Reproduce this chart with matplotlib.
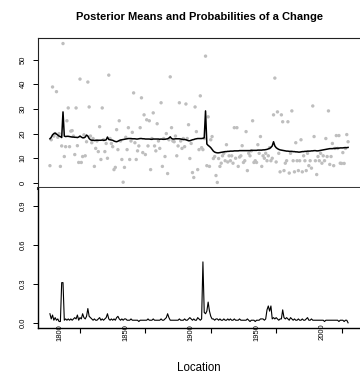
import numpy as np
import matplotlib
matplotlib.use("Agg")
import matplotlib.pyplot as plt

plt.rcParams['font.family'] = ['Liberation Sans', 'DejaVu Sans']

first_year = 1792
observed = [
    7, 17.5, 38.9, 19, 20, 37, 18.5, 20, 6.7, 15,            # 1792-1801
    56.5, 10.7, 14.7, 25.2, 30.4, 14.7, 21, 21.2, 19, 11.5,  # 1802-1811
    30.4, 15.1, 8.3, 42.1, 8.3, 10.7, 19.5, 11, 16.7, 40.9,  # 1812-1821
    30.8, 19, 16.3, 18, 6.7, 14, 17, 12.7, 22.8, 9.5,        # 1822-1831
    30.4, 17.5, 12.7, 16, 10, 43.7, 18, 16, 14.7, 5.4,       # 1832-1841
    6.3, 21.6, 13.5, 25.2, 17, 9.5, 0.3, 6.3, 18.5, 13.5,    # 1842-1851
    22.4, 9.5, 17, 20.5, 36.5, 16.3, 9.5, 13, 15, 22.4,      # 1852-1861
    34.5, 12.3, 27.6, 11.5, 25.6, 15, 25.2, 5.4, 18, 28.4,   # 1862-1871
    15, 13, 24, 17, 14, 32.5, 6.7, 18, 10.7, 20,             # 1872-1881
    3.8, 17.5, 43, 22.4, 17, 16.7, 19, 11, 15, 32.5,         # 1882-1891
    17, 14, 18, 14.7, 32, 18, 23.6, 9.9, 16, 4.2,            # 1892-1901
    2.2, 30.8, 20.8, 5.4, 13.5, 35.3, 14.3, 13.5, 18, 51.4,  # 1902-1911
    7, 26.8, 6.7, 17.5, 18.8, 9.9, 10.7, 3, 0.2, 9.9,        # 1912-1921
    6.7, 8, 11, 12, 9, 15.5, 8.5, 11, 9, 11,                 # 1922-1931
    8, 22.4, 10, 22.4, 6.7, 10.5, 11, 15.1, 8.3, 9,          # 1932-1941
    20.8, 5, 12, 11, 13, 25.2, 8.3, 9, 8.3, 15.5,            # 1942-1951
    12, 18.8, 6.7, 11, 10, 12, 9, 11, 14.3, 9,               # 1952-1961
    10, 27.6, 42.5, 8.5, 28.8, 12, 4.5, 27.6, 24.8, 5,       # 1962-1971
    8, 9, 24.8, 4, 12, 29.2, 9, 4.5, 16.3, 9,                # 1972-1981
    5, 9, 17.5, 4.5, 11, 9, 5, 12, 7, 9,                     # 1982-1991
    6, 31.2, 18.8, 9, 3.4, 10.7, 9, 12, 8, 11,               # 1992-2001
    9, 18, 10.7, 29.2, 7.5, 10.7, 16, 7, 14, 19.2,           # 2002-2011
    14, 19.2, 8, 7.9, 12.3, 7.9, 14, 19.6, 16.7,             # 2012-2020
]
posterior_mean = [
    17.9, 18.5, 19.5, 20.0, 20.2, 19.8, 19.4, 19.0, 18.8, 18.4,  # 1792
    28.8, 19.0, 18.8, 18.9, 18.9, 18.8, 18.7, 18.6, 18.6, 18.5,  # 1802
    18.5, 18.4, 18.6, 19.0, 18.6, 18.3, 18.3, 18.6, 19.4, 19.0,  # 1812
    18.0, 17.5, 17.3, 17.3, 17.2, 17.3, 17.3, 17.3, 17.3, 17.3,  # 1822
    17.4, 17.3, 17.3, 17.5, 18.6, 17.6, 17.5, 17.4, 17.3, 17.0,  # 1832
    16.8, 16.7, 16.9, 17.2, 17.4, 17.5, 17.6, 17.7, 17.8, 17.9,  # 1842
    18.0, 18.0, 18.0, 17.9, 17.9, 17.9, 17.8, 17.8, 17.9, 18.0,  # 1852
    18.0, 17.9, 17.9, 17.8, 17.8, 17.8, 17.8, 17.7, 17.7, 17.8,  # 1862
    17.8, 17.8, 17.8, 17.8, 17.7, 17.8, 17.7, 17.7, 17.7, 17.8,  # 1872
    17.9, 18.2, 18.7, 18.0, 17.8, 17.8, 17.9, 17.9, 17.9, 17.9,  # 1882
    17.8, 17.7, 17.6, 17.6, 17.5, 17.3, 17.1, 17.1, 17.3, 17.5,  # 1892
    17.6, 17.8, 17.9, 18.0, 18.0, 18.0, 18.0, 18.1, 18.3, 29.2,  # 1902
    15.8, 15.2, 14.8, 14.3, 13.6, 12.9, 12.5, 12.3, 12.2, 12.2,  # 1912
    12.3, 12.4, 12.5, 12.6, 12.7, 12.7, 12.8, 12.8, 12.9, 12.9,  # 1922
    12.9, 13.0, 13.0, 13.0, 13.0, 13.1, 13.1, 13.1, 13.1, 13.1,  # 1932
    13.1, 13.1, 13.1, 13.1, 13.2, 13.2, 13.2, 13.2, 13.2, 13.3,  # 1942
    13.3, 13.3, 13.3, 13.4, 13.4, 13.5, 13.6, 13.8, 14.0, 14.4,  # 1952
    15.0, 16.7, 15.0, 14.3, 13.9, 13.6, 13.4, 13.3, 13.2, 13.1,  # 1962
    13.0, 12.9, 12.9, 12.8, 12.8, 12.8, 12.7, 12.7, 12.6, 12.6,  # 1972
    12.5, 12.5, 12.6, 12.7, 12.7, 12.8, 12.8, 12.9, 12.9, 12.9,  # 1982
    13.0, 13.0, 13.1, 13.1, 13.0, 13.0, 13.1, 13.2, 13.3, 13.4,  # 1992
    13.5, 13.6, 13.7, 13.8, 13.9, 13.9, 13.9, 14.0, 14.0, 14.1,  # 2002
    14.1, 14.1, 14.2, 14.2, 14.2, 14.3, 14.3, 14.3, 14.4,        # 2012
]
posterior_prob = [
    0.07, 0.03, 0.06, 0.02, 0.04, 0.02, 0.03, 0.01, 0.01, 0.31,  # 1792
    0.31, 0.02, 0.03, 0.02, 0.03, 0.02, 0.03, 0.02, 0.03, 0.04,  # 1802
    0.03, 0.06, 0.02, 0.04, 0.03, 0.07, 0.04, 0.03, 0.05, 0.11,  # 1812
    0.05, 0.04, 0.03, 0.02, 0.03, 0.02, 0.02, 0.03, 0.04, 0.02,  # 1822
    0.03, 0.02, 0.03, 0.04, 0.07, 0.03, 0.02, 0.03, 0.02, 0.03,  # 1832
    0.02, 0.04, 0.05, 0.03, 0.02, 0.03, 0.02, 0.03, 0.03, 0.02,  # 1842
    0.02, 0.02, 0.03, 0.02, 0.02, 0.02, 0.02, 0.02, 0.01, 0.02,  # 1852
    0.02, 0.02, 0.02, 0.02, 0.02, 0.03, 0.02, 0.02, 0.02, 0.03,  # 1862
    0.02, 0.02, 0.02, 0.02, 0.02, 0.03, 0.02, 0.02, 0.03, 0.04,  # 1872
    0.07, 0.04, 0.02, 0.02, 0.02, 0.02, 0.02, 0.02, 0.02, 0.03,  # 1882
    0.02, 0.02, 0.02, 0.03, 0.02, 0.02, 0.03, 0.04, 0.03, 0.02,  # 1892
    0.03, 0.02, 0.02, 0.04, 0.03, 0.02, 0.03, 0.47, 0.08, 0.07,  # 1902
    0.09, 0.16, 0.09, 0.05, 0.03, 0.03, 0.02, 0.03, 0.03, 0.02,  # 1912
    0.03, 0.02, 0.02, 0.03, 0.02, 0.02, 0.03, 0.02, 0.03, 0.02,  # 1922
    0.02, 0.03, 0.02, 0.02, 0.02, 0.03, 0.02, 0.02, 0.02, 0.02,  # 1932
    0.02, 0.03, 0.02, 0.01, 0.02, 0.02, 0.02, 0.01, 0.02, 0.02,  # 1942
    0.02, 0.03, 0.03, 0.03, 0.02, 0.03, 0.10, 0.13, 0.09, 0.13,  # 1952
    0.03, 0.04, 0.03, 0.04, 0.03, 0.02, 0.03, 0.03, 0.10, 0.04,  # 1962
    0.03, 0.04, 0.03, 0.02, 0.04, 0.03, 0.02, 0.03, 0.02, 0.02,  # 1972
    0.03, 0.02, 0.02, 0.03, 0.02, 0.02, 0.03, 0.04, 0.02, 0.02,  # 1982
    0.03, 0.02, 0.02, 0.02, 0.02, 0.02, 0.02, 0.02, 0.02, 0.02,  # 1992
    0.01, 0.02, 0.02, 0.02, 0.02, 0.02, 0.02, 0.02, 0.02, 0.02,  # 2002
    0.02, 0.01, 0.02, 0.02, 0.02, 0.01, 0.02, 0.02, 0.00,        # 2012
]
year_labels = [1800, 1850, 1900, 1950, 2000]
tick_marks = [1815, 1865, 1915, 1965, 2015]
top_yticks = [0, 10, 20, 30, 40, 50]
bottom_yticks = [0.0, 0.3, 0.6, 0.9]
bottom_yticklabels = ["0.0", "0.3", "0.6", "0.9"]

years = np.arange(first_year, first_year + len(observed))

W, H = 360, 374
fig = plt.figure(figsize=(W / 100, H / 100), dpi=100)

def fx(px):
    return px / W

def fy(py):
    return 1 - py / H

L, R = 38, 360
T1, M, B2 = 38, 188, 328
ax1 = fig.add_axes([fx(L), fy(M), fx(R - L), (M - T1) / H])
ax2 = fig.add_axes([fx(L), fy(B2), fx(R - L), (B2 - M) / H], sharex=ax1)

xr = years[-1] - years[0]
xlim = (years[0] - 0.04 * xr, years[-1] + 0.04 * xr)

tick_fs = 5.5
# Top panel
ax1.scatter(years, observed, s=6, color='#BEBEBE', edgecolors='none', zorder=2)
ax1.plot(years, posterior_mean, color='black', lw=1.1, zorder=3)
yr = max(observed) - min(observed)
ax1.set_ylim(min(observed) - 0.04 * yr, max(observed) + 0.04 * yr)
ax1.set_xlim(*xlim)
ax1.set_yticks(top_yticks)
ax1.set_yticklabels([str(v) for v in top_yticks], rotation=90, va='center', fontsize=tick_fs)
ax1.tick_params(axis='y', direction='out', length=3.6, width=0.7, pad=4.5)
ax1.tick_params(axis='x', which='both', bottom=False, labelbottom=False)
for s in ['top', 'left']:
    ax1.spines[s].set_linewidth(0.8)
    ax1.spines[s].set_color('#222222')
ax1.spines['right'].set_visible(False)
ax1.spines['bottom'].set_linewidth(2.2)
ax1.spines['bottom'].set_color('#3a3a3a')

# Bottom panel
ax2.plot(years, posterior_prob, color='black', lw=0.8)
ax2.set_ylim(-0.04, 1.04)
ax2.set_yticks(bottom_yticks)
ax2.set_yticklabels(bottom_yticklabels, rotation=90, va='center', fontsize=tick_fs)
ax2.tick_params(axis='y', direction='out', length=3.6, width=0.7, pad=4.5)
ax2.spines['top'].set_visible(False)
ax2.spines['right'].set_visible(False)
ax2.spines['left'].set_linewidth(1.0)
ax2.spines['bottom'].set_linewidth(1.0)
ax2.set_xticks(tick_marks)
ax2.set_xticklabels([])
ax2.set_xticks(year_labels, minor=True)
ax2.set_xticklabels([str(v) for v in year_labels], minor=True, rotation=90, fontsize=tick_fs)
ax2.tick_params(axis='x', which='major', direction='out', length=3.6, width=0.8)
ax2.tick_params(axis='x', which='minor', length=0, pad=-3.0)
ax2.set_xlim(*xlim)

fig.text(fx(199), fy(17), "Posterior Means and Probabilities of a Change",
         ha='center', va='center', fontsize=8, fontweight='bold')
fig.text(fx(199), fy(368), "Location", ha='center', va='center', fontsize=8.3)

fig.savefig("out.png", dpi=100)
